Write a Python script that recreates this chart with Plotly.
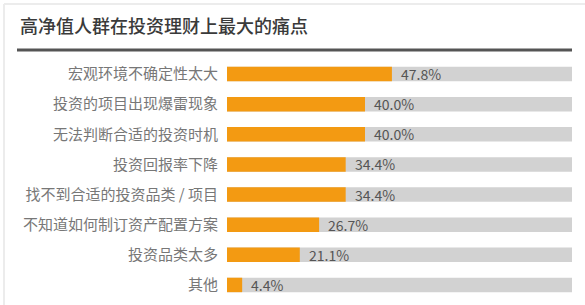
import plotly.graph_objects as go

categories = ["宏观环境不确定性太大", "投资的项目出现爆雷现象", "无法判断合适的投资时机", "投资回报率下降",
              "找不到合适的投资品类 / 项目", "不知道如何制订资产配置方案", "投资品类太多", "其他"]
values = [47.8, 40.0, 40.0, 34.4, 34.4, 26.7, 21.1, 4.4]
full = [100] * len(categories)
value_labels = [f"{v:.1f}%" for v in values]
title = "高净值人群在投资理财上最大的痛点"

FONT = "Noto Sans CJK SC"
fig = go.Figure()
fig.add_trace(go.Bar(y=categories, x=full, orientation="h", marker=dict(color="#d2d2d2", line_width=0),
                     width=0.48, hoverinfo="skip", showlegend=False))
fig.add_trace(go.Bar(y=categories, x=values, orientation="h", marker=dict(color="#f39a12", line_width=0),
                     width=0.48, showlegend=False))

for c, v, t in zip(categories, values, value_labels):
    fig.add_annotation(x=v, y=c, xref="x", yref="y", text=t, showarrow=False, xanchor="left",
                       xshift=7, font=dict(family=FONT, size=14, color="#555555"))

W, H = 585, 305
ml, mr, mt, mb = 227, 13, 59, 5
pw, ph = W - ml - mr, H - mt - mb

def px(xp):
    return (xp - ml) / pw

def py(yp):
    return (H - mb - yp) / ph

# faint outer frame (left and top)
fig.add_shape(type="line", xref="paper", yref="paper", x0=px(4), x1=px(4), y0=py(4), y1=py(305),
              line=dict(color="#ececec", width=2))
fig.add_shape(type="line", xref="paper", yref="paper", x0=px(4), x1=px(585), y0=py(4), y1=py(4),
              line=dict(color="#ececec", width=2))

fig.add_shape(type="line", xref="paper", yref="paper", x0=px(17), x1=px(572), y0=py(50), y1=py(50),
              line=dict(color="#555555", width=3))
fig.add_annotation(xref="paper", yref="paper", x=px(18), y=py(25), text=title, showarrow=False,
                   xanchor="left", yanchor="middle",
                   font=dict(family=FONT, size=18, color="#3a3a3a", weight=500))

fig.update_layout(
    width=W, height=H, margin=dict(l=ml, r=mr, t=mt, b=mb),
    barmode="overlay", bargap=0.5,
    paper_bgcolor="white", plot_bgcolor="white",
    xaxis=dict(range=[0, 100], visible=False, fixedrange=True),
    yaxis=dict(autorange="reversed", showgrid=False, zeroline=False, showline=False, ticks="",
               ticklabelstandoff=8, tickfont=dict(family=FONT, size=15, color="#777777")),
)
fig.write_html("out.html")
